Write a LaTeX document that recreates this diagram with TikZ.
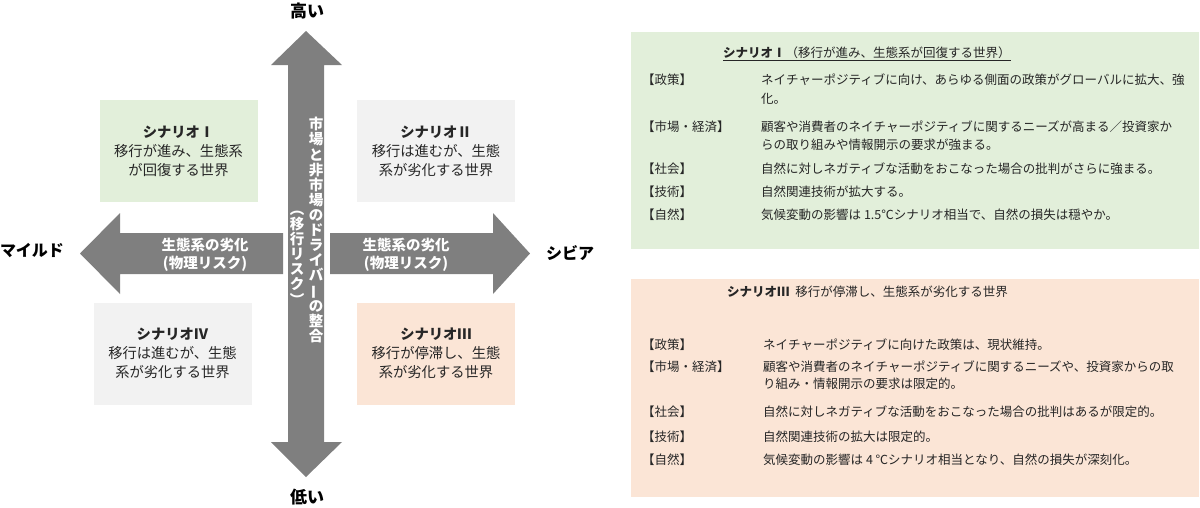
\documentclass[tikz,border=0pt]{standalone}
\usepackage{fontspec}
\setmainfont{Noto Sans CJK JP}
\usepackage{graphicx}

\definecolor{arrowgray}{HTML}{7F7F7F}
\definecolor{scgreen}{HTML}{E2EFDA}
\definecolor{scgray}{HTML}{F2F2F2}
\definecolor{scpeach}{HTML}{FBE5D6}
\definecolor{txt}{HTML}{262626}

\newcommand{\fs}[2]{\fontsize{#1}{#2}\selectfont}
\newcommand{\tatebar}{\rotatebox[origin=c]{90}{ー}}

\begin{document}
\begin{tikzpicture}[x=1pt,y=-1pt,
    scen/.style={minimum width=158pt,minimum height=102pt,inner sep=0pt,
      align=center,text=txt,font=\fs{14.3}{19}},
    axislbl/.style={inner sep=0pt,text=black,font=\fs{16}{18}\bfseries},
    arrlbl/.style={inner sep=0pt,align=center,text=white,font=\fs{14.5}{18}\bfseries},
    tate/.style={inner sep=0pt,align=center,text=white,font=\fs{14.5}{15.1}\bfseries},
    panel/.style={anchor=north west,inner sep=0pt,minimum width=568pt},
    item/.style={inner sep=0pt,anchor=base west,text=txt,font=\fs{12.5}{17}}]
  \useasboundingbox (0,0) rectangle (1200,507);

  % quadrants
  \node[scen,fill=scgreen] (s1) at (178.5,151) {\textbf{シナリオⅠ}\\移行が進み、生態系\\が回復する世界};
  \node[scen,fill=scgray]  (s2) at (436,151)   {\textbf{シナリオⅡ}\\移行は進むが、生態\\系が劣化する世界};
  \node[scen,fill=scpeach] (s3) at (436,353.5) {\textbf{シナリオⅢ}\\移行が停滞し、生態\\系が劣化する世界};
  \node[scen,fill=scgray]  (s4) at (172.5,353.5) {\textbf{シナリオⅣ}\\移行は進むが、生態\\系が劣化する世界};

  % horizontal arrows
  \fill[arrowgray] (80,253.5) -- (120,213) -- (120,233) -- (283,233) -- (283,274)
    -- (120,274) -- (120,294) -- cycle;
  \fill[arrowgray] (330,233) -- (493,233) -- (493,213) -- (530,253.5) -- (493,294)
    -- (493,274) -- (330,274) -- cycle;
  \node[arrlbl] (hl) at (205,255) {生態系の劣化\\(物理リスク)};
  \node[arrlbl] (hr) at (406,255) {生態系の劣化\\(物理リスク)};

  % vertical arrow
  \fill[arrowgray] (306,31) -- (342,65) -- (324,65) -- (324,442) -- (342,442)
    -- (306,477) -- (271,442) -- (288,442) -- (288,65) -- (271,65) -- cycle;
  \node[tate] (v1) at (316,230) {市\\場\\と\\非\\市\\場\\の\\ド\\ラ\\イ\\バ\\\tatebar\\の\\整\\合};
  \node[tate] (v2) at (297,258) {︵\\移\\行\\リ\\ス\\ク\\︶};

  % axis ends
  \node[axislbl,font=\fs{17}{18}\bfseries] (high) at (307,11) {高い};
  \node[axislbl,font=\fs{17}{18}\bfseries] (low)  at (307,497) {低い};
  \node[axislbl] (mild)   at (32,251)  {マイルド};
  \node[axislbl] (severe) at (570,253) {シビア};

  % scenario I
  \node[panel,fill=scgreen,minimum height=217pt] (p1) at (631,32) {};
  \node[item] (p1t) at (723,57.2) {\textbf{シナリオⅠ}（移行が進み、生態系が回復する世界）\ };
  \draw[txt,line width=0.8pt] ([yshift=-3pt]p1t.base west) -- ([yshift=-3pt]p1t.base east);
  \node[item] (p1a) at (642,84)  {【政策】};
  \node[item] (p1b) at (761,84)  {ネイチャーポジティブに向け、あらゆる側面の政策がグローバルに拡大、強};
  \node[item] (p1c) at (761,103) {化。};
  \node[item] (p1d) at (642,131) {【市場・経済】};
  \node[item] (p1e) at (761,131) {顧客や消費者のネイチャーポジティブに関するニーズが高まる／投資家か};
  \node[item] (p1f) at (761,149) {らの取り組みや情報開示の要求が強まる。};
  \node[item] (p1g) at (642,173) {【社会】};
  \node[item] (p1h) at (761,173) {自然に対しネガティブな活動をおこなった場合の批判がさらに強まる。};
  \node[item] (p1i) at (642,196) {【技術】};
  \node[item] (p1j) at (761,196) {自然関連技術が拡大する。};
  \node[item] (p1k) at (642,219) {【自然】};
  \node[item] (p1l) at (761,219) {気候変動の影響は 1.5℃シナリオ相当で、自然の損失は穏やか。};

  % scenario III
  \node[panel,fill=scpeach,minimum height=218pt] (p3) at (631,279) {};
  \node[item] (p3t) at (727,296) {\textbf{シナリオⅢ}\ \ 移行が停滞し、生態系が劣化する世界};
  \node[item] (p3a) at (642,349.5) {【政策】};
  \node[item] (p3b) at (763,349.5) {ネイチャーポジティブに向けた政策は、現状維持。};
  \node[item] (p3c) at (642,371)   {【市場・経済】};
  \node[item] (p3d) at (763,371)   {顧客や消費者のネイチャーポジティブに関するニーズや、投資家からの取};
  \node[item] (p3e) at (763,388)   {り組み・情報開示の要求は限定的。};
  \node[item] (p3f) at (642,416)   {【社会】};
  \node[item] (p3g) at (763,416)   {自然に対しネガティブな活動をおこなった場合の批判はあるが限定的。};
  \node[item] (p3h) at (642,441)   {【技術】};
  \node[item] (p3i) at (763,441)   {自然関連技術の拡大は限定的。};
  \node[item] (p3j) at (642,464.5) {【自然】};
  \node[item] (p3k) at (763,464.5) {気候変動の影響は 4 ℃シナリオ相当となり、自然の損失が深刻化。};
\end{tikzpicture}
\end{document}
